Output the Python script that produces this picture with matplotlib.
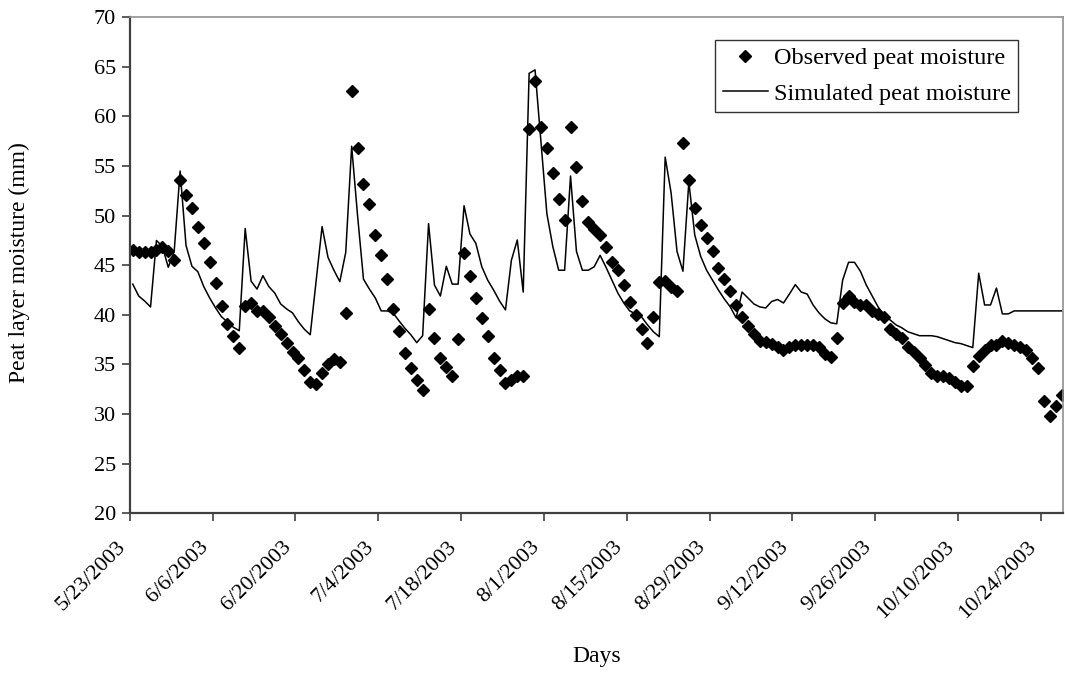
import datetime as dt
import matplotlib
matplotlib.use('Agg')
import matplotlib.pyplot as plt
from matplotlib.transforms import ScaledTranslation

start = dt.datetime(2003, 5, 23)
days = list(range(158))

observed = [
    46.5, 46.3, 46.3, 46.3, 46.5, 46.8, 46.4, 45.5, 53.6, 52.1,
    50.8, 48.9, 47.2, 45.3, 43.2, 40.9, 39.1, 37.9, 36.7, 40.9,
    41.2, 40.4, 40.4, 39.8, 38.9, 38.1, 37.2, 36.3, 35.7, 34.4,
    33.2, 33.0, 34.1, 35.0, 35.6, 35.2, 40.2, 62.6, 56.8, 53.2,
    51.2, 48.1, 46.0, 43.6, 40.6, 38.35, 36.2, 34.6, 33.4, 32.4,
    40.6, 37.7, 35.7, 34.7, 33.8, 37.6, 46.2, 43.95, 41.7, 39.7,
    37.9, 35.7, 34.4, 33.1, 33.4, 33.8, 33.8, 58.7, 63.6, 58.9,
    56.8, 54.3, 51.7, 49.6, 58.9, 54.9, 51.5, 49.4, 48.7, 48.1,
    46.8, 45.3, 44.5, 43.0, 41.3, 40.0, 38.55, 37.2, 39.8, 43.3,
    43.45, 42.85, 42.4, 57.3, 53.6, 50.75, 49.1, 47.7, 46.4, 44.7,
    43.6, 42.45, 41.0, 39.8, 38.9, 38.1, 37.4, 37.3, 37.1, 36.8,
    36.5, 36.8, 37.0, 37.0, 37.0, 37.0, 36.8, 36.1, 35.8, 37.7,
    41.2, 41.9, 41.3, 41.0, 41.0, 40.4, 40.1, 39.8, 38.55, 38.1,
    37.7, 36.8, 36.3, 35.7, 34.95, 34.1, 33.8, 33.8, 33.6, 33.2,
    32.8, 32.8, 34.8, 35.9, 36.5, 37.0, 37.0, 37.4, 37.2, 37.0,
    36.8, 36.5, 35.7, 34.6, 31.35, 29.85, 30.8, 31.9]

simulated = [
    43.1, 41.9, 41.4, 40.8, 47.5, 46.9, 44.8, 46.4, 54.5, 47.0,
    44.9, 44.35, 42.85, 41.7, 40.7, 39.8, 39.3, 38.75, 38.4, 48.7,
    43.4, 42.6, 43.95, 42.85, 42.2, 41.1, 40.6, 40.2, 39.3, 38.55,
    38.0, 43.4, 48.9, 45.8, 44.5, 43.35, 46.3, 57.0, 50.0, 43.6,
    42.6, 41.7, 40.4, 40.4, 40.2, 39.4, 38.65, 38.0, 37.2, 37.9,
    49.2, 43.0, 41.9, 44.9, 43.1, 43.1, 51.0, 48.15, 47.2, 44.85,
    43.5, 42.5, 41.4, 40.5, 45.5, 47.55, 42.3, 64.35, 64.7, 57.5,
    50.2, 46.9, 44.5, 44.5, 54.0, 46.4, 44.5, 44.5, 44.85, 46.0,
    44.8, 43.5, 42.2, 41.2, 40.4, 40.1, 39.8, 39.0, 38.3, 37.8,
    55.9, 52.3, 46.4, 44.4, 53.4, 48.05, 45.9, 44.5, 43.5, 42.5,
    41.6, 40.8, 39.7, 42.3, 41.7, 41.1, 40.8, 40.7, 41.35, 41.55,
    41.2, 42.1, 43.05, 42.3, 42.1, 41.0, 40.2, 39.6, 39.2, 39.1,
    43.5, 45.3, 45.3, 44.4, 43.0, 41.9, 40.8, 40.0, 39.5, 39.0,
    38.7, 38.3, 38.1, 37.9, 37.9, 37.9, 37.8, 37.6, 37.4, 37.2,
    37.1, 36.9, 36.7, 44.2, 41.0, 41.0, 42.7, 40.1, 40.1, 40.4,
    40.4, 40.4, 40.4, 40.4, 40.4, 40.4, 40.4, 40.4]

tick_days = list(range(0, 155, 14))
y_ticks = list(range(20, 75, 5))

plt.rcParams['font.family'] = ['Liberation Serif', 'DejaVu Serif']

figure, axis = plt.subplots(figsize=(10.65, 6.75), dpi=100)
figure.subplots_adjust(left=0.1219, right=0.9984, top=0.9744, bottom=0.2396)

# points sit in the middle of their day, like an Excel date axis
x = [d + 0.5 for d in days]
axis.plot(x, observed, linestyle='none', marker='D', markersize=6,
          color='black', label='Observed peat moisture')
axis.plot(x, simulated, color='black', linewidth=1.1,
          label='Simulated peat moisture')

axis.set_xlim(0, 157.8)
axis.set_ylim(20, 70)
axis.set_yticks(y_ticks)
axis.set_xticks(tick_days)
labels = []
for d in tick_days:
    day = start + dt.timedelta(days=d)
    labels.append('{}/{}/{}'.format(day.month, day.day, day.year))
axis.set_xticklabels(labels, rotation=45, ha='right', va='center',
                     rotation_mode='anchor')

axis.tick_params(axis='both', labelsize=16, colors='#404040',
                 labelcolor='black', direction='out', length=6, width=1.2)
axis.tick_params(axis='x', pad=16)
axis.tick_params(axis='y', pad=4)
shift = ScaledTranslation(-5 / 72, 0, figure.dpi_scale_trans)
for label in axis.get_xticklabels():
    label.set_transform(label.get_transform() + shift)

for side in ['left', 'bottom']:
    axis.spines[side].set_color('#404040')
    axis.spines[side].set_linewidth(1.6)
for side in ['top', 'right']:
    axis.spines[side].set_color('#909090')
    axis.spines[side].set_linewidth(1.2)

axis.set_ylabel('Peat layer moisture (mm)', fontsize=17)
axis.yaxis.set_label_coords(-0.107, 0.505)
axis.set_xlabel('Days', fontsize=17)
axis.xaxis.set_label_coords(0.5, -0.2675)

legend = axis.legend(loc='upper right', bbox_to_anchor=(0.9515, 0.954),
                     borderaxespad=0, fontsize=17.5, frameon=True, fancybox=False,
                     handlelength=1.85, handletextpad=0.25, labelspacing=0.55,
                     borderpad=0.3, markerfirst=True)
legend.get_frame().set_edgecolor('black')
legend.get_frame().set_linewidth(1.0)

figure.savefig('out.png', dpi=100)
